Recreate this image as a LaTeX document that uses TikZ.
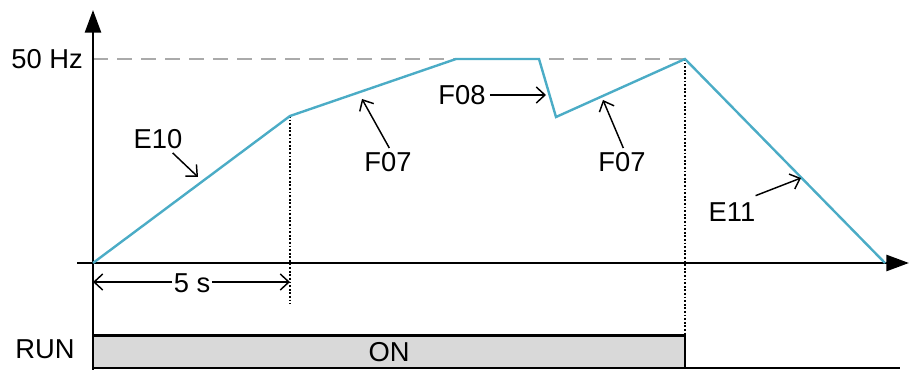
\documentclass[tikz,border=0pt]{standalone}
\usepackage{fontspec}
\setmainfont{Liberation Sans}
\usetikzlibrary{arrows.meta,calc}
\definecolor{curveblue}{RGB}{75,172,198}
\definecolor{rungray}{RGB}{217,217,217}
\tikzset{
  axis/.style={line width=2pt,-{Triangle[length=17pt,width=12pt]}},
  ramp/.style={curveblue,line width=1.8pt,line join=miter},
  marker/.style={line width=1.4pt,dash pattern=on 1.3pt off 1.4pt},
  pointer/.style={line width=1.1pt,-{Straight Barb[length=6.5pt,width=12pt]}},
  lbl/.style={inner sep=3pt,font=\fontsize{20.5}{24}\selectfont}
}
\begin{document}
\begin{tikzpicture}[x=0.75pt,y=0.75pt,yscale=-1,xscale=1]
        \useasboundingbox (0,0) rectangle (921,370);
        % curve points
        \coordinate (p0) at (93,263);
        \coordinate (p1) at (290,116);
        \coordinate (p2) at (456,59);
        \coordinate (p3) at (539,59);
        \coordinate (p4) at (556,117);
        \coordinate (p5) at (685,59);
        \coordinate (p6) at (885,263);

        %Max frequency
        \draw [color={rgb, 255:red, 170; green, 170; blue, 170 }, line width=1.2pt, dash pattern=on 11pt off 7pt] (93,59) -- (p5) ;
        %Axes
        \draw [axis] (93,370) -- (93,10) ;
        \draw [axis] (77,263) -- (909,263) ;
        %RUN bar
        \draw [fill=rungray, line width=1.5pt] (93,368) -- (93,335.5) -- (685,335.5) -- (685,368) ;
        \draw [line width=1.5pt] (93,368) -- (900,368) ;
        %Dotted markers
        \draw [marker] (p1) -- (290,304) ;
        \draw [marker] (p5) -- (685,335.5) ;
        %Frequency curve
        \draw [ramp] (p0) -- (p1) -- (p2) -- (p3) -- (p4) -- (p5) -- (p6) ;

        % Text Node
        \node [lbl, anchor=east] (fmax) at (87,59) {50 Hz};
        % Text Node
        \node [lbl] (run) at (45,349) {RUN};
        % Text Node
        \node [lbl] (on) at (389,352) {ON};
        % Text Node
        \node [lbl, fill=white, inner sep=1pt] (dt) at (192,283) {5 s};
        \coordinate (dt0) at (93,282);
        \coordinate (dt1) at (290,282);
        \draw [pointer] (dt.west |- dt0) -- (dt0) ;
        \draw [pointer] (dt.east |- dt1) -- (dt1) ;

        % Text Node
        \node [lbl] (e10) at (158,139) {E10};
        \coordinate (e10tip) at (198,177);
        \draw [pointer] (e10) -- (e10tip) ;
        % Text Node
        \node [lbl] (f07a) at (388,162) {F07};
        \coordinate (f07atip) at (362,99);
        \draw [pointer] ([xshift=1pt]f07a.north) -- (f07atip) ;
        % Text Node
        \node [lbl] (f08) at (462,95) {F08};
        \coordinate (f08tip) at (546,95);
        \draw [pointer] (f08.east) -- (f08tip) ;
        % Text Node
        \node [lbl] (f07b) at (622,162) {F07};
        \coordinate (f07btip) at (603,100);
        \draw [pointer] ([xshift=1pt]f07b.north) -- (f07btip) ;
        % Text Node
        \node [lbl] (e11) at (732,212) {E11};
        \coordinate (e11tip) at (801,178);
        \draw [pointer] ([xshift=-3pt,yshift=-2pt]e11.north east) -- (e11tip) ;
\end{tikzpicture}
\end{document}
